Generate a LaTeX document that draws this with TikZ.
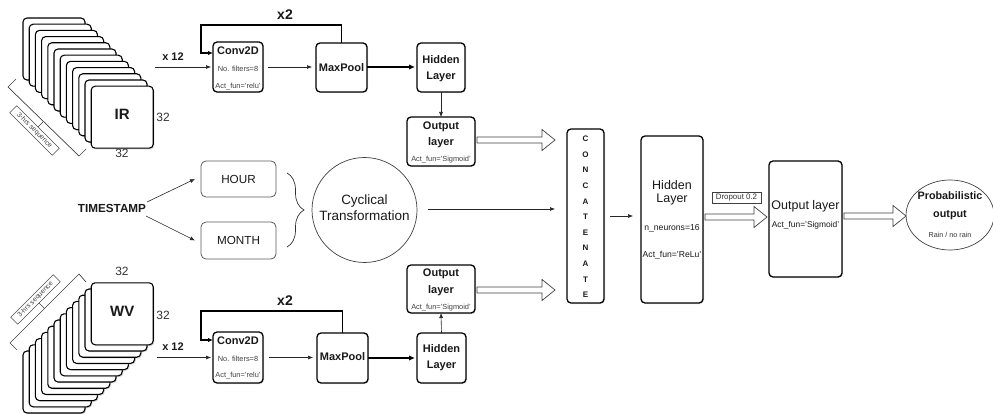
\documentclass[tikz,border=0pt]{standalone}
\usepackage{fontspec}
\setmainfont{Liberation Sans}
\usetikzlibrary{arrows.meta,calc,decorations.pathreplacing,shadows,shapes.geometric}

% font size helper
\newcommand\fsz[1]{\fontsize{#1}{#1}\selectfont}
% hollow block arrow between two points at the height of the first
\newcommand\hollowarrow[2]{%
  \draw[hollow] let \p1=(#1), \p2=(#2) in
    (\x1,\y1+3pt) -- (\x2-13pt,\y1+3pt) -- (\x2-13pt,\y1+10.5pt) -- (\x2,\y1)
    -- (\x2-13pt,\y1-10.5pt) -- (\x2-13pt,\y1-3pt) -- (\x1,\y1-3pt) -- cycle;}

\begin{document}
\begin{tikzpicture}[x=1pt,y=-1pt,
  every node/.style={inner sep=0pt, outer sep=0pt, text=black!90},
  card/.style={draw=black, line width=1.1pt, fill=white, rounded corners=4pt,
    minimum width=62pt, minimum height=62pt,
    drop shadow={shadow xshift=1.2pt, shadow yshift=-1.2pt, opacity=0.35}},
  layerbox/.style={draw=black, line width=1.3pt, fill=white, rounded corners=4pt,
    drop shadow={shadow xshift=1pt, shadow yshift=-1pt, opacity=0.25}},
  softbox/.style={draw=black!65, line width=0.8pt, rounded corners=5pt, fill=white},
  arr/.style={draw=black!85, line width=0.6pt, -{Latex[length=5pt,width=4pt]}},
  fatarr/.style={draw=black, line width=1.7pt, -{Latex[length=6pt,width=5.5pt]}},
  looparr/.style={draw=black, line width=1.3pt, -{Latex[length=5pt,width=4.5pt]}},
  hollow/.style={draw=black!75, line width=0.7pt, fill=white},
  bold11/.style={font=\fsz{11}\bfseries, anchor=mid},
  small/.style={font=\fsz{7.4}, text=black!75, anchor=mid},
  num/.style={font=\fsz{12}, text=black!80, anchor=mid},
  seqbox/.style={draw=black!70, line width=0.6pt, minimum width=60pt, minimum height=10pt,
    font=\fsz{6.8}, text=black!75},
]
\useasboundingbox (0,0) rectangle (993,414);

% ---------- IR image stack ----------
\foreach \i in {0,...,11}
  \node[card] (irc\i) at ({54+6.2*\i},{49+6.2*\i}) {};
\node[font=\fsz{15}\bfseries, anchor=mid] (irlbl) at (irc11.center) {IR};
\node[num] (irw) at (163,119) {32};
\node[num] (irh) at (122,155) {32};
% sequence bracket
\coordinate (ba1) at (16,79);  \coordinate (bb1) at (8,87);
\coordinate (bc1) at (79,156); \coordinate (bd1) at (86,149);
\draw[black!75, line width=0.7pt] (ba1) -- (bb1) -- (bc1) -- (bd1);
\coordinate (bm1) at ($(bb1)!0.5!(bc1)$);
\node[seqbox, rotate=-45] (seq1) at (34.5,130.5) {3-hrs sequence};
\draw[black!75, line width=0.7pt] (bm1) -- (seq1.north);

% ---------- WV image stack ----------
\foreach \i in {0,...,11}
  \node[card] (wvc\i) at ({54+6.2*\i},{382-6.2*\i}) {};
\node[font=\fsz{15}\bfseries, anchor=mid] (wvlbl) at (wvc11.center) {WV};
\node[num] (wvw) at (122,273) {32};
\node[num] (wvh) at (163,317) {32};
\coordinate (ba2) at (86,282); \coordinate (bb2) at (79,274);
\coordinate (bc2) at (10,343); \coordinate (bd2) at (17,350);
\draw[black!75, line width=0.7pt] (ba2) -- (bb2) -- (bc2) -- (bd2);
\coordinate (bm2) at ($(bb2)!0.5!(bc2)$);
\node[seqbox, rotate=45] (seq2) at (35.5,299.5) {3-hrs sequence};
\draw[black!75, line width=0.7pt] (bm2) -- (seq2.south);

% ---------- upper CNN branch ----------
\node[layerbox, minimum width=50pt, minimum height=50pt] (conv1) at (238,67) {};
\node[bold11] (conv1a) at (238,52) {Conv2D};
\node[small] (conv1b) at (238,69) {No. filters=8};
\node[small] (conv1c) at (238,85.5) {Act\_fun='relu'};
\node[layerbox, minimum width=51pt, minimum height=49pt] (pool1) at (341.5,67.5) {};
\node[bold11] (pool1a) at (341.5,69) {MaxPool};
\node[layerbox, minimum width=48pt, minimum height=49pt] (hid1) at (441,67.5) {};
\node[bold11] (hid1a) at (441,61) {Hidden};
\node[bold11] (hid1b) at (441,77) {Layer};
\node[layerbox, minimum width=68pt, minimum height=49pt] (out1) at (441,141.5) {};
\node[bold11] (out1a) at (441,127) {Output};
\node[bold11] (out1b) at (441,143) {layer};
\node[small] (out1c) at (441,159) {Act\_fun='Sigmoid'};

\coordinate (in1) at (155,67);
\node[font=\fsz{11}\bfseries, anchor=mid] (x12a) at (173,58) {x 12};
\draw[arr] (in1) -- ([xshift=-2pt]conv1.west);
\draw[arr] ([xshift=5pt]conv1.east) -- ([xshift=-4pt]conv1.east -| pool1.west);
\draw[fatarr] (pool1.east |- conv1.east) -- ([xshift=-2pt]hid1.west |- conv1.east);
\coordinate (lp1) at (201,25);
\draw[looparr] (pool1.north) |- (lp1) |- ([yshift=14pt]conv1.west);
\node[font=\fsz{14}\bfseries, anchor=mid] (rep1) at (285,17) {x2};
\draw[arr] (hid1.south) -- (out1.north);

% ---------- lower CNN branch ----------
\node[layerbox, minimum width=50pt, minimum height=51pt] (conv2) at (238,357.5) {};
\node[bold11] (conv2a) at (238,342) {Conv2D};
\node[small] (conv2b) at (238,359) {No. filters=8};
\node[small] (conv2c) at (238,375) {Act\_fun='relu'};
\node[layerbox, minimum width=51pt, minimum height=50pt] (pool2) at (342.5,358) {};
\node[bold11] (pool2a) at (342.5,358) {MaxPool};
\node[layerbox, minimum width=49pt, minimum height=50pt] (hid2) at (441.5,358) {};
\node[bold11] (hid2a) at (441.5,350) {Hidden};
\node[bold11] (hid2b) at (441.5,366) {Layer};
\node[layerbox, minimum width=68pt, minimum height=48pt] (out2) at (441,289) {};
\node[bold11] (out2a) at (441,274) {Output};
\node[bold11] (out2b) at (441,291) {layer};
\node[small] (out2c) at (441,307) {Act\_fun='Sigmoid'};

\coordinate (in2) at (157,357.5);
\node[font=\fsz{11}\bfseries, anchor=mid] (x12b) at (173,348) {x 12};
\draw[arr] (in2) -- ([xshift=-2pt]conv2.west);
\draw[arr] ([xshift=6pt]conv2.east) -- ([xshift=-4pt]conv2.east -| pool2.west);
\draw[fatarr] (pool2.east) -- ([xshift=-2pt]hid2.west);
\coordinate (lp2) at (201,311);
\draw[looparr] (pool2.north) |- (lp2) |- ([yshift=17.5pt]conv2.west);
\node[font=\fsz{14}\bfseries, anchor=mid] (rep2) at (285,303) {x2};
\draw[arr] (hid2.north) -- (out2.south);

% ---------- timestamp branch ----------
\node[font=\fsz{11.7}\bfseries, anchor=mid] (ts) at (112,210) {TIMESTAMP};
\node[softbox, minimum width=75pt, minimum height=36pt, font=\fsz{11.7}] (hour) at (238.5,179) {HOUR};
\node[softbox, minimum width=75pt, minimum height=37pt, font=\fsz{11.7}] (month) at (238.5,240.5) {MONTH};
\draw[arr] (147,202) -- ([xshift=-6pt]hour.west);
\draw[arr] (146,216) -- ([xshift=-6pt]month.west);
\coordinate (brt) at (287,173);
\coordinate (brb) at (287,247);
\draw[black!80, line width=0.7pt, decorate, decoration={brace, amplitude=17pt}] (brt) -- (brb);
\node[circle, draw=black!75, line width=0.7pt, minimum size=105pt] (cyc) at (364.5,210) {};
\node[font=\fsz{13.5}, anchor=mid] (cyca) at (364.5,202) {Cyclical};
\node[font=\fsz{13.5}, anchor=mid] (cycb) at (364.5,218) {Transformation};

% ---------- merge and dense head ----------
\node[layerbox, minimum width=37pt, minimum height=174pt] (cat) at (585.5,216) {};
\foreach \l [count=\i from 0] in {C,O,N,C,A,T,E,N,A,T,E}
  \node[font=\fsz{8}\bfseries, anchor=mid] (cat\i) at (585.5,{139+15.6*\i}) {\l};
\draw[arr] ([xshift=11pt]cyc.east |- 0,209) -- ([xshift=-12pt]cat.west |- 0,209);
\hollowarrow{[xshift=2pt]out1.east |- 0,140}{[xshift=-12pt]cat.west |- 0,140}
\hollowarrow{[xshift=2pt]out2.east |- 0,290}{[xshift=-12pt]cat.west |- 0,290}

\node[layerbox, minimum width=62pt, minimum height=167pt] (hidb) at (672,219.5) {};
\node[font=\fsz{12.5}, anchor=mid] (hidba) at (672,187) {Hidden};
\node[font=\fsz{12.5}, anchor=mid] (hidbb) at (672,200) {Layer};
\node[font=\fsz{8.6}, anchor=mid] (hidbc) at (672,228) {n\_neurons=16};
\node[font=\fsz{8.6}, anchor=mid] (hidbd) at (672,255) {Act\_fun='ReLu'};
\draw[arr] ([xshift=6pt]cat.east) -- ([xshift=-8pt]hidb.west |- cat.east);

\node[layerbox, minimum width=73pt, minimum height=116pt] (outb) at (805.5,219) {};
\node[font=\fsz{12.5}, anchor=mid] (outba) at (805.5,207) {Output layer};
\node[font=\fsz{8.4}, anchor=mid] (outbb) at (805.5,225) {Act\_fun='Sigmoid'};
\hollowarrow{[xshift=2pt]hidb.east |- 0,217}{[xshift=-2pt]outb.west |- 0,217}
\node[draw=black!75, line width=0.6pt, minimum width=49pt, minimum height=10.5pt,
  font=\fsz{7.9}, text=black!80] (drop) at (736.5,198) {Dropout 0.2};

\node[ellipse, draw=black!75, line width=0.7pt, minimum width=88pt, minimum height=70pt] (prob) at (950,215) {};
\node[font=\fsz{10.8}\bfseries, anchor=mid] (proba) at (950,197) {Probabilistic};
\node[font=\fsz{10.8}\bfseries, anchor=mid] (probb) at (950,215) {output};
\node[font=\fsz{7.2}, text=black!80, anchor=mid] (probc) at (950,235) {Rain / no rain};
\hollowarrow{[xshift=2pt]outb.east |- 0,216}{prob.west |- 0,216}
\end{tikzpicture}
\end{document}
